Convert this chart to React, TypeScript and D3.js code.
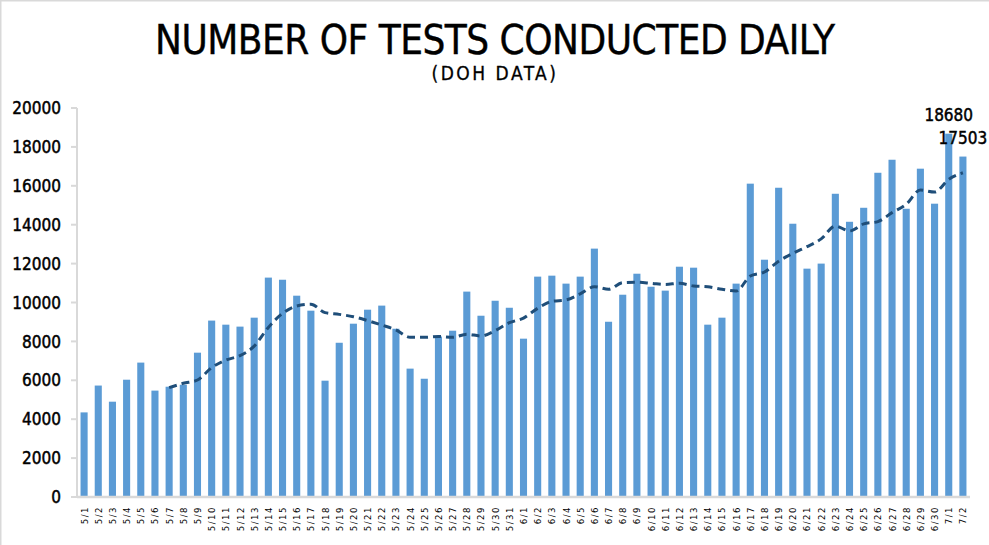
import React from "react";
import * as d3 from "d3";

const dates: string[] = [
  "5/1","5/2","5/3","5/4","5/5","5/6","5/7","5/8","5/9","5/10","5/11","5/12","5/13","5/14","5/15","5/16",
  "5/17","5/18","5/19","5/20","5/21","5/22","5/23","5/24","5/25","5/26","5/27","5/28","5/29","5/30","5/31",
  "6/1","6/2","6/3","6/4","6/5","6/6","6/7","6/8","6/9","6/10","6/11","6/12","6/13","6/14","6/15","6/16",
  "6/17","6/18","6/19","6/20","6/21","6/22","6/23","6/24","6/25","6/26","6/27","6/28","6/29","6/30",
  "7/1","7/2",
];

const tests: number[] = [
  4350, 5730, 4900, 6030, 6910, 5470, 5670, 5770, 7420, 9070, 8860, 8760, 9220, 11280, 11170, 10350,
  9580, 5980, 7930, 8910, 9630, 9840, 8650, 6600, 6080, 8250, 8550, 10560, 9320, 10090, 9730,
  8140, 11330, 11380, 10970, 11330, 12770, 9010, 10400, 11480, 10810, 10610, 11840, 11790, 8860, 9220, 10970,
  16110, 12200, 15900, 14050, 11740, 12000, 15590, 14150, 14870, 16670, 17340, 14820, 16880, 15080,
  18680, 17503,
];

const movingAvg: (number | null)[] = [
  null, null, null, null, null, null, 5620, 5845, 6015, 6650, 7040, 7270, 7760, 8720, 9440, 9820,
  9910, 9480, 9390, 9270, 9070, 8840, 8590, 8210, 8210, 8250, 8210, 8370, 8280, 8550, 8960,
  9200, 9700, 10060, 10130, 10440, 10810, 10680, 11020, 11040, 10990, 10930, 10990, 10850, 10810, 10680, 10590,
  11360, 11570, 12120, 12530, 12870, 13270, 13930, 13680, 14040, 14160, 14620, 15050, 15780, 15680,
  16330, 16670,
];

const labelledDates: string[] = ["7/1", "7/2"];
const yTicks: number[] = [0, 2000, 4000, 6000, 8000, 10000, 12000, 14000, 16000, 18000, 20000];

const title = "NUMBER OF TESTS CONDUCTED DAILY";
const subtitle = "(DOH DATA)";

const FONT = "'DejaVu Sans Condensed', 'Liberation Sans Narrow', 'DejaVu Sans', sans-serif";

export default function App() {
  const W = 989, H = 545;
  const x = d3.scaleBand<string>().domain(dates).range([77, 970]).paddingInner(0.5).paddingOuter(0.25);
  const y = d3.scaleLinear().domain([0, 20000]).range([497, 108]);

  const line = d3
    .line<number | null>()
    .defined((d) => d !== null)
    .x((_, i) => (x(dates[i]) as number) + x.bandwidth() / 2)
    .y((d) => y(d as number))
    .curve(d3.curveMonotoneX);

  return (
    <>
      <style>{`body{margin:0}`}</style>
      <svg width={W} height={H} style={{ display: "block", background: "#fff" }} fontFamily={FONT}>
        <line x1={0.5} y1={0} x2={0.5} y2={H} stroke="#d9d9d9" strokeWidth={2} />
        <line x1={0} y1={0.5} x2={W} y2={0.5} stroke="#d9d9d9" strokeWidth={2} />

        <text x={495} y={54} textAnchor="middle" fontSize={40} fill="#000" stroke="#000" strokeWidth={0.4}
          textLength={680} lengthAdjust="spacing">
          {title}
        </text>
        <text x={495} y={80} textAnchor="middle" fontSize={19} fill="#000" stroke="#000" strokeWidth={0.3} letterSpacing={2.5}>
          {subtitle}
        </text>

        {/* y axis */}
        <line x1={77} y1={y(20000)} x2={77} y2={y(0)} stroke="#d9d9d9" strokeWidth={2} />
        {yTicks.map((t) => (
          <g key={t}>
            <line x1={71} x2={77} y1={y(t)} y2={y(t)} stroke="#d9d9d9" strokeWidth={2} />
            <text x={61} y={y(t)} dy="0.36em" textAnchor="end" fontSize={17} fill="#000" stroke="#000" strokeWidth={0.45}>
              {t}
            </text>
          </g>
        ))}

        {/* bars */}
        {tests.map((v, i) => (
          <rect
            key={dates[i]}
            x={x(dates[i])}
            y={y(v)}
            width={x.bandwidth()}
            height={y(0) - y(v)}
            fill="#5b9bd5"
          />
        ))}

        {/* baseline */}
        <line x1={77} y1={y(0)} x2={970} y2={y(0)} stroke="#d9d9d9" strokeWidth={2.5} />

        {/* moving average */}
        <path d={line(movingAvg) || ""} fill="none" stroke="#1f4e79" strokeWidth={3} strokeDasharray="8 5" />

        {/* data labels */}
        {labelledDates.map((d) => {
          const i = dates.indexOf(d);
          return (
            <text
              key={d}
              x={(x(d) as number) + x.bandwidth() / 2}
              y={y(tests[i]) - 13}
              textAnchor="middle"
              fontSize={17}
              fill="#000"
              stroke="#000"
              strokeWidth={0.45}
            >
              {tests[i]}
            </text>
          );
        })}

        {/* x labels */}
        {dates.map((d) => {
          const cx = (x(d) as number) + x.bandwidth() / 2;
          return (
            <text
              key={d}
              transform={`translate(${cx + 3.5},506) rotate(-90)`}
              textAnchor="end"
              fontSize={9.5}
              letterSpacing={1.5}
              fill="#000"
            >
              {d}
            </text>
          );
        })}
      </svg>
    </>
  );
}
